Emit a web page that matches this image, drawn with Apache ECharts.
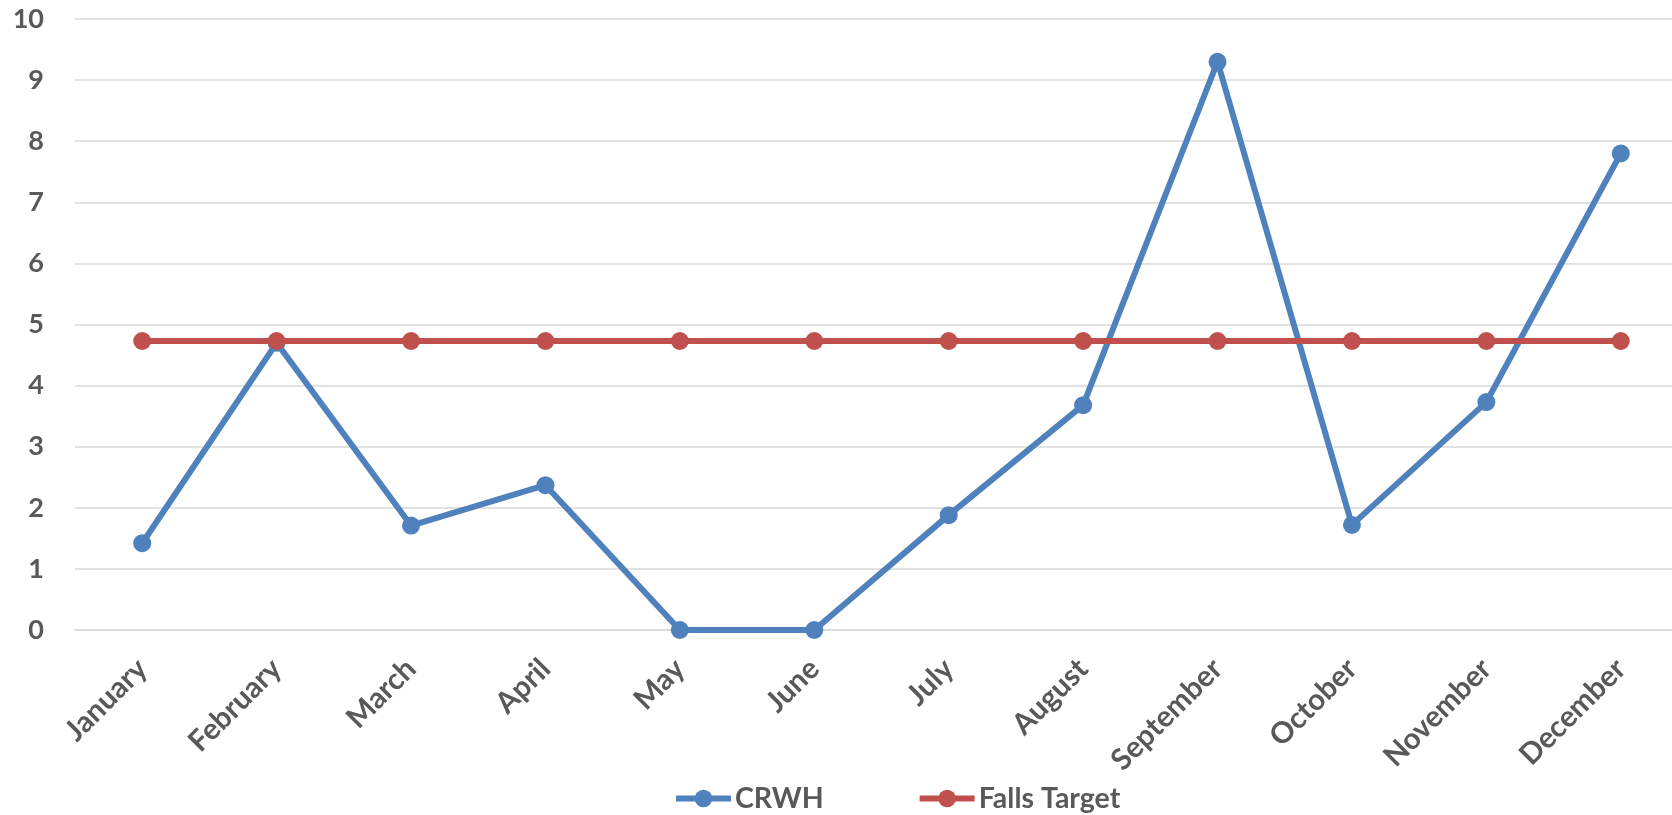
<!DOCTYPE html>
<html>
<head>
<meta charset="utf-8">
<script src="https://cdn.jsdelivr.net/npm/echarts@6/dist/echarts.min.js"></script>
<style>
html,body{margin:0;padding:0;background:#fff;}
#chart{width:1672px;height:815px;}
</style>
</head>
<body>
<div id="chart"></div>
<script>
const categories = ['January','February','March','April','May','June','July','August','September','October','November','December'];
const crwh = [1.42, 4.70, 1.71, 2.37, 0, 0, 1.88, 3.68, 9.30, 1.72, 3.73, 7.80];
const fallsTarget = [4.73, 4.73, 4.73, 4.73, 4.73, 4.73, 4.73, 4.73, 4.73, 4.73, 4.73, 4.73];
const yTicks = [0, 10, 1];

const textStyle = {fontFamily: 'Lato', fontWeight: 'bold', fontSize: 27, color: '#595959'};
const chart = echarts.init(document.getElementById('chart'), null, {renderer: 'canvas'});
chart.setOption({
  animation: false,
  backgroundColor: '#ffffff',
  grid: {left: 75, width: 1613, top: 19, bottom: 185, containLabel: false, outerBoundsMode: 'none'},
  legend: {
    left: 668, top: 779,
    itemWidth: 55, itemHeight: 22, itemGap: 93,
    lineStyle: {width: 6},
    textStyle: Object.assign({}, textStyle, {fontSize: 28.5, padding: [0,0,0,-1]}),
    data: ['CRWH', 'Falls Target']
  },
  xAxis: {
    type: 'category', data: categories, boundaryGap: true,
    axisLine: {show: true, lineStyle: {color: '#d9d9d9', width: 1.5}},
    axisTick: {show: false},
    axisLabel: Object.assign({}, textStyle, {fontSize: 29.5, rotate: 45, margin: 34, interval: 0})
  },
  yAxis: {
    type: 'value', min: yTicks[0], max: yTicks[1], interval: yTicks[2],
    axisLine: {show: false}, axisTick: {show: false},
    splitLine: {lineStyle: {color: '#d9d9d9', width: 1.5}},
    axisLabel: Object.assign({}, textStyle, {margin: 31})
  },
  series: [
    {name: 'CRWH', type: 'line', data: crwh, symbol: 'circle', symbolSize: 18,
     itemStyle: {color: '#4f81bd'}, lineStyle: {color: '#4f81bd', width: 6}},
    {name: 'Falls Target', type: 'line', data: fallsTarget, symbol: 'circle', symbolSize: 18,
     itemStyle: {color: '#c0504d'}, lineStyle: {color: '#c0504d', width: 6}}
  ]
});
</script>
</body>
</html>
